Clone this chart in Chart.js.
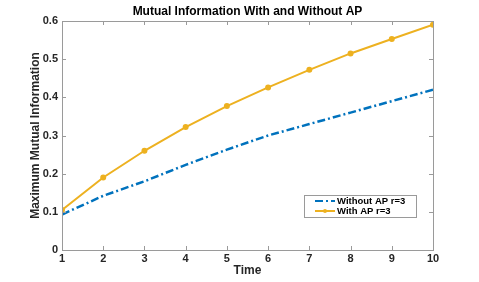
<!DOCTYPE html>
<html>
<head>
<meta charset="utf-8">
<script src="https://cdn.jsdelivr.net/npm/chart.js@4"></script>
<style>
  html, body { margin: 0; padding: 0; background: #fff; }
  #wrap { width: 479px; height: 282px; }
</style>
</head>
<body>
<div id="wrap"><canvas id="miChart" width="479" height="282"></canvas></div>
<script>
// Data
const timeSteps = [1, 2, 3, 4, 5, 6, 7, 8, 9, 10];
const withoutAP = [0.093, 0.142, 0.180, 0.223, 0.263, 0.300, 0.330, 0.360, 0.390, 0.420];
const withAP = [0.105, 0.190, 0.260, 0.322, 0.377, 0.426, 0.472, 0.515, 0.553, 0.590];
const yTicks = [0, 0.1, 0.2, 0.3, 0.4, 0.5, 0.6];

const FONT = 'Liberation Sans, Arial, Helvetica, sans-serif';
const AXIS_GRAY = '#9a9a9a';
const TEXT_COL = '#262626';

// Box, inward ticks, title and legend drawn like MATLAB
const matlabFrame = {
    id: 'matlabFrame',
    afterDraw(chart) {
        const { ctx, chartArea: a, scales } = chart;
        ctx.save();
        ctx.strokeStyle = AXIS_GRAY;
        ctx.lineWidth = 1;
        ctx.strokeRect(a.left + 0.5, a.top + 0.5, a.right - a.left, a.bottom - a.top);

        ctx.beginPath();
        timeSteps.forEach(t => {
            const x = Math.round(scales.x.getPixelForValue(t)) + 0.5;
            ctx.moveTo(x, a.bottom); ctx.lineTo(x, a.bottom - 4);
            ctx.moveTo(x, a.top); ctx.lineTo(x, a.top + 4);
        });
        yTicks.forEach(v => {
            const y = Math.round(scales.y.getPixelForValue(v)) + 0.5;
            ctx.moveTo(a.left, y); ctx.lineTo(a.left + 4, y);
            ctx.moveTo(a.right, y); ctx.lineTo(a.right - 4, y);
        });
        ctx.stroke();

        // title
        ctx.fillStyle = '#000';
        ctx.font = 'bold 12px ' + FONT;
        ctx.textAlign = 'center';
        ctx.textBaseline = 'middle';
        ctx.fillText('Mutual Information With and Without AP', (a.left + a.right) / 2, 12);

        // legend
        const bx = 304, by = 195, bw = 112, bh = 22;
        ctx.fillStyle = '#fff';
        ctx.fillRect(bx, by, bw, bh);
        ctx.strokeStyle = AXIS_GRAY;
        ctx.strokeRect(bx + 0.5, by + 0.5, bw, bh);
        ctx.font = 'bold 9.5px ' + FONT;
        ctx.textAlign = 'left';
        chart.data.datasets.forEach((ds, i) => {
            const y = by + 6 + i * 10;
            ctx.strokeStyle = ds.borderColor;
            ctx.lineWidth = 2;
            ctx.setLineDash(ds.borderDash || []);
            ctx.beginPath();
            ctx.moveTo(bx + 11, y); ctx.lineTo(bx + 31, y);
            ctx.stroke();
            ctx.setLineDash([]);
            if (ds.pointRadius > 0) {
                ctx.fillStyle = ds.borderColor;
                ctx.beginPath();
                ctx.arc(bx + 21, y, 2, 0, Math.PI * 2);
                ctx.fill();
            }
            ctx.fillStyle = '#000';
            ctx.fillText(ds.label, bx + 33, y + 0.5);
        });
        ctx.restore();
    }
};

const ctx = document.getElementById('miChart').getContext('2d');
new Chart(ctx, {
    type: 'line',
    data: {
        datasets: [{
            label: 'Without AP r=3',
            data: timeSteps.map((t, i) => ({ x: t, y: withoutAP[i] })),
            borderColor: '#0072BD',
            borderWidth: 2.5,
            borderDash: [8, 3, 2, 3],
            pointRadius: 0,
            tension: 0
        }, {
            label: 'With AP r=3',
            data: timeSteps.map((t, i) => ({ x: t, y: withAP[i] })),
            borderColor: '#EDB120',
            backgroundColor: '#EDB120',
            borderWidth: 2,
            pointRadius: 2,
            pointStyle: 'circle',
            tension: 0
        }]
    },
    options: {
        responsive: false,
        animation: false,
        layout: { padding: { top: 21, right: 46, left: 28, bottom: 0 } },
        plugins: {
            legend: { display: false },
            title: { display: false },
            tooltip: { enabled: false }
        },
        scales: {
            x: {
                type: 'linear',
                min: 1, max: 10,
                grid: { display: false, drawTicks: false, tickLength: 0 },
                border: { display: false },
                afterFit(s) { s.height = 32; },
                ticks: {
                    stepSize: 1, padding: 2,
                    color: TEXT_COL,
                    font: { family: FONT, size: 11, weight: 'bold' }
                },
                title: {
                    display: true, text: 'Time', color: TEXT_COL,
                    padding: { top: 0, bottom: 4 },
                    font: { family: FONT, size: 12, weight: 'bold' }
                }
            },
            y: {
                min: 0, max: 0.6,
                grid: { display: false, drawTicks: false, tickLength: 0 },
                border: { display: false },
                afterFit(s) { s.width = 34; },
                afterBuildTicks(s) { s.ticks = yTicks.map(v => ({ value: v })); },
                ticks: {
                    padding: 4,
                    color: TEXT_COL,
                    font: { family: FONT, size: 11, weight: 'bold' },
                    callback: v => String(Math.round(v * 10) / 10)
                },
                title: {
                    display: true, text: 'Maximum Mutual Information', color: TEXT_COL,
                    padding: 0,
                    font: { family: FONT, size: 12, weight: 'bold' }
                }
            }
        }
    },
    plugins: [matlabFrame]
});
</script>
</body>
</html>
